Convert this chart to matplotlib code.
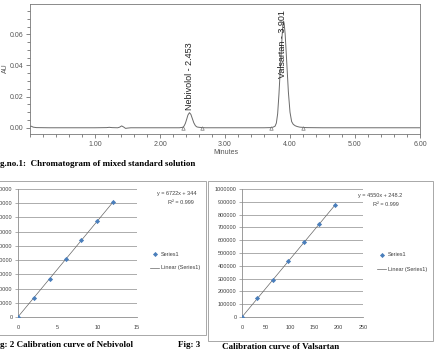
import numpy as np
import matplotlib
matplotlib.use("Agg")
import matplotlib.pyplot as plt
from matplotlib.patches import Rectangle
from matplotlib.lines import Line2D

# ---------------- data ----------------
# Chromatogram trace (minutes, AU)
chrom_time = [0.00, 0.02, 0.05, 0.10, 0.30, 0.60, 1.00, 1.18, 1.22, 1.26, 1.35, 1.38,
              1.41, 1.44, 1.47, 1.50, 1.55, 1.70, 2.00, 2.30,
              2.35, 2.37, 2.39, 2.41, 2.43, 2.453, 2.475, 2.50, 2.52, 2.545, 2.57,
              2.60, 2.65, 2.70, 3.00, 3.30, 3.60,
              3.70, 3.72, 3.74, 3.77, 3.79, 3.81, 3.83, 3.855, 3.88, 3.89, 3.901,
              3.91, 3.925, 3.95, 3.975, 4.00, 4.025, 4.05, 4.08, 4.11, 4.15, 4.25,
              4.50, 5.00, 5.50, 6.00]
chrom_au = [0.0008, 0.0010, 0.0004, 0.0001, 0.0000, 0.0000, 0.0000, 0.0001, 0.0003, 0.0001, 0.0000, 0.0004,
            0.0012, 0.0005, -0.0004, -0.0002, 0.0000, 0.0000, 0.0000, 0.0000,
            0.0003, 0.0011, 0.0028, 0.0054, 0.0082, 0.0097, 0.0086, 0.0056, 0.0032, 0.0013, 0.0005,
            0.0003, 0.0001, 0.0000, 0.0000, 0.0000, 0.0000,
            0.0001, 0.0002, 0.0004, 0.0010, 0.0030, 0.0090, 0.0215, 0.0410, 0.0600, 0.0660, 0.0685,
            0.0670, 0.0605, 0.0420, 0.0230, 0.0100, 0.0040, 0.0022, 0.0013, 0.0008, 0.0004, 0.0001,
            0.0000, 0.0000, 0.0000, 0.0000]
peak_names = ["Nebivolol - 2.453", "Valsartan - 3.901"]
peak_times = [2.453, 3.89]
peak_label_y = [0.0115, 0.032]
marker_times = [2.36, 2.65, 3.70, 4.20]

# Calibration: Nebivolol
neb_conc = [0, 2, 4, 6, 8, 10, 12]
neb_area = [0, 13700, 26900, 40600, 54000, 67600, 80800]
neb_eq = "y = 6722x + 344"
# Calibration: Valsartan
val_conc = [0, 32, 64, 96, 128, 160, 192]
val_area = [0, 145000, 292000, 437000, 583000, 728000, 873000]
val_eq = "y = 4550x + 248.2"
r2_text = "R\u00b2 = 0.999"

W, H = 437, 352
fig = plt.figure(figsize=(W / 100, H / 100), dpi=100)
fig.patch.set_facecolor("white")


def ax_px(x0, y0, x1, y1):
    return fig.add_axes([x0 / W, 1 - y1 / H, (x1 - x0) / W, (y1 - y0) / H])


def fx(x):
    return x / W


def fy(y):
    return 1 - y / H


# ---------------- chromatogram ----------------
gray = "#555555"
ax = ax_px(30, 4, 420, 134)
ax.plot(chrom_time, chrom_au, color="#6a6a6a", lw=0.7)
ax.plot(marker_times, [0.0] * len(marker_times), ls="none", marker="^", mfc="none",
        mec="#777777", ms=2.5, mew=0.5)
ax.set_xlim(0, 6.0)
ax.set_ylim(-0.004, 0.0795)
ax.set_xticks([1, 2, 3, 4, 5, 6])
ax.set_xticklabels(["1.00", "2.00", "3.00", "4.00", "5.00", "6.00"])
ax.set_xticks(np.arange(0, 6.01, 0.2), minor=True)
ax.set_yticks([0.0, 0.02, 0.04, 0.06])
ax.set_yticklabels(["0.00", "0.02", "0.04", "0.06"])
ax.set_yticks(np.arange(0, 0.0796, 0.005), minor=True)
ax.tick_params(which="both", direction="out", colors=gray, labelsize=5, width=0.5)
ax.tick_params(which="major", length=3, pad=2)
ax.tick_params(which="minor", length=2)
for lab in ax.get_xticklabels() + ax.get_yticklabels():
    lab.set_family("Liberation Sans")
for s in ax.spines.values():
    s.set_color("#777777")
    s.set_linewidth(0.6)
for name, t, yb in zip(peak_names, peak_times, peak_label_y):
    ax.text(t, yb, name, rotation=90, ha="center", va="bottom", fontsize=6.5,
            family="Liberation Sans", color="#222222")
fig.text(fx(226), fy(153), "Minutes", ha="center", va="center", fontsize=5,
         family="Liberation Sans", color=gray)
fig.text(fx(5), fy(68), "AU", ha="center", va="center", rotation=90, fontsize=5,
         family="Liberation Sans", color=gray)
fig.text(fx(0), fy(164), "g.no.1:  Chromatogram of mixed standard solution", ha="left",
         va="center", fontsize=6.5, family="Liberation Serif", weight="bold", color="black")

# ---------------- calibration charts ----------------
blue = "#4a7ebb"
txtc = "#404040"


def calib(box, area, xs, ys, xmax, xstep, ymax, ystep, eq, eq_xy, leg_xy):
    bx0, by0, bx1, by1 = box
    fig.patches.append(Rectangle((fx(bx0), fy(by1)), fx(bx1 - bx0), (by1 - by0) / H,
                                 transform=fig.transFigure, fill=False,
                                 edgecolor="#9a9a9a", lw=0.6))
    a = ax_px(*area)
    a.scatter(xs, ys, marker="D", s=7, color=blue, zorder=3, linewidths=0)
    k, b = np.polyfit(xs, ys, 1)
    xx = np.array([0, max(xs)])
    a.plot(xx, k * xx + b, color="#666666", lw=0.5, zorder=2)
    a.set_xlim(0, xmax)
    a.set_ylim(0, ymax)
    xt = np.arange(0, xmax + 1, xstep)
    yt = np.arange(0, ymax + 1, ystep)
    a.set_xticks(xt)
    a.set_xticklabels([str(int(v)) for v in xt])
    a.set_yticks(yt)
    a.set_yticklabels([str(int(v)) for v in yt])
    a.yaxis.grid(True, color="#8c8c8c", lw=0.5)
    a.set_axisbelow(True)
    for side in ["top", "right"]:
        a.spines[side].set_visible(False)
    for side in ["left", "bottom"]:
        a.spines[side].set_color("#8c8c8c")
        a.spines[side].set_linewidth(0.6)
    a.tick_params(axis="y", direction="out", length=2.5, width=0.5, colors="#8c8c8c",
                  labelsize=4, labelcolor=txtc, pad=1.5)
    a.tick_params(axis="x", direction="out", length=0, labelsize=4, labelcolor=txtc, pad=6)
    for lab in a.get_xticklabels() + a.get_yticklabels():
        lab.set_family("Liberation Sans")
    ex, ey = eq_xy
    fig.text(fx(ex), fy(ey), eq, ha="right", va="center", fontsize=4,
             family="Liberation Sans", color=txtc)
    fig.text(fx(ex - 3), fy(ey + 10), r2_text, ha="right", va="center", fontsize=4,
             family="Liberation Sans", color=txtc)
    lx, ly = leg_xy
    fig.lines.append(Line2D([fx(lx)], [fy(ly)], transform=fig.transFigure, marker="D",
                            ms=2.6, color=blue, ls="none", mew=0))
    fig.text(fx(lx + 6), fy(ly), "Series1", ha="left", va="center", fontsize=4,
             family="Liberation Sans", color=txtc)
    fig.lines.append(Line2D([fx(lx - 5), fx(lx + 4)], [fy(ly + 14)] * 2,
                            transform=fig.transFigure, color="#666666", lw=0.5))
    fig.text(fx(lx + 6), fy(ly + 14), "Linear (Series1)", ha="left", va="center", fontsize=4,
             family="Liberation Sans", color=txtc)
    return a


calib((-5, 181, 206, 335), (18, 189, 137, 317), neb_conc, neb_area, 15, 5, 90000, 10000,
      neb_eq, (197, 193), (155, 254))
calib((208, 181, 433, 341), (242, 189, 363, 317), val_conc, val_area, 250, 50, 1000000, 100000,
      val_eq, (402, 195), (382, 255))

fig.text(fx(0), fy(345), "g: 2 Calibration curve of Nebivolol", ha="left", va="center",
         fontsize=6.5, family="Liberation Serif", weight="bold")
fig.text(fx(178), fy(345), "Fig: 3", ha="left", va="center",
         fontsize=6.5, family="Liberation Serif", weight="bold")
fig.text(fx(222), fy(347), "Calibration curve of Valsartan", ha="left", va="center",
         fontsize=6.5, family="Liberation Serif", weight="bold")

fig.savefig("out.png", dpi=100)
